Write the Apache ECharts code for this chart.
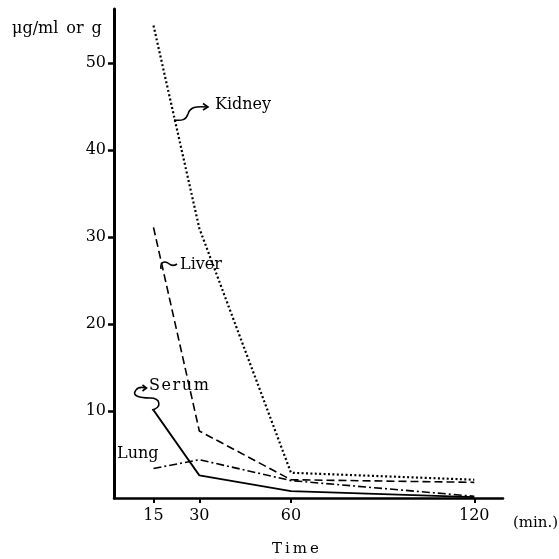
<!DOCTYPE html>
<html>
<head>
<meta charset="utf-8">
<script src="https://cdn.jsdelivr.net/npm/echarts@6/dist/echarts.min.js"></script>
<style>
  html, body { margin: 0; padding: 0; background: #fff; }
  #chart { width: 559px; height: 559px; }
</style>
</head>
<body>
<div id="chart"></div>
<script>
// sampling times (min.)
const times = [15, 30, 60, 120];
const xTicks = [15, 30, 60, 120];
const yTicks = [10, 20, 30, 40, 50];

// concentrations, ug/ml or g
const kidney = [54.3, 31.0, 2.9, 2.1];
const liver = [31.1, 7.7, 2.1, 1.8];
const serum = [10.1, 2.6, 0.8, 0.1];
const lung = [3.4, 4.4, 2.0, 0.2];

const FONT = 'DejaVu Serif';

function pairs(vals) {
  return times.map((t, i) => [t, vals[i]]);
}

function lineSeries(name, vals, type, width) {
  return {
    name: name,
    type: 'line',
    data: pairs(vals),
    symbol: 'none',
    silent: true,
    lineStyle: { color: '#000', width: width, type: type, cap: 'butt' }
  };
}

function label(text, x, y, size) {
  return {
    type: 'text', x: x, y: y,
    style: { text: text, fill: '#000', font: size + 'px "' + FONT + '"', verticalAlign: 'middle' }
  };
}

// hand drawn pointer: a bezier plus a small arrow head
function curve(x1, y1, cpx1, cpy1, cpx2, cpy2, x2, y2) {
  return {
    type: 'bezierCurve',
    shape: { x1: x1, y1: y1, cpx1: cpx1, cpy1: cpy1, cpx2: cpx2, cpy2: cpy2, x2: x2, y2: y2 },
    style: { fill: null, stroke: '#000', lineWidth: 1.6 }
  };
}

function head(pts) {
  return {
    type: 'polyline',
    shape: { points: pts },
    style: { fill: null, stroke: '#000', lineWidth: 1.6 }
  };
}

const chart = echarts.init(document.getElementById('chart'));

chart.setOption({
  animation: false,
  backgroundColor: '#fff',
  grid: { left: 114, right: 56, top: 9, bottom: 61 },
  xAxis: {
    type: 'value',
    min: 2.07,
    max: 129.4,
    splitLine: { show: false },
    axisLine: { lineStyle: { color: '#000', width: 2.5 } },
    axisTick: { show: true, customValues: xTicks, length: 5, lineStyle: { color: '#000', width: 2 } },
    axisLabel: { customValues: xTicks, color: '#000', fontFamily: FONT, fontSize: 16, margin: 10 }
  },
  yAxis: {
    type: 'value',
    min: 0,
    max: 56.2,
    splitLine: { show: false },
    axisLine: { show: true, lineStyle: { color: '#000', width: 3 } },
    axisTick: { show: true, customValues: yTicks, length: 6, lineStyle: { color: '#000', width: 2.5 } },
    axisLabel: { customValues: yTicks, color: '#000', fontFamily: FONT, fontSize: 16, margin: 8 }
  },
  series: [
    lineSeries('Kidney', kidney, [2, 2.4], 2.2),
    lineSeries('Liver', liver, [8, 4], 1.6),
    lineSeries('Lung', lung, [8, 3, 2, 3], 1.6),
    lineSeries('Serum', serum, 'solid', 1.8)
  ],
  graphic: [
    label('\u03bcg/ml\u2002or\u2002g', 12, 29, 16),
    label('(min.)', 513, 523, 15),
    label('T\u2009i\u2009m\u2009e', 272, 549, 15),
    label('Kidney', 215, 105, 16),
    label('Liver', 180, 265, 16),
    label('S\u200Ae\u200Ar\u200Au\u200Am', 149, 386, 16),
    label('Lung', 117, 454, 16),
    curve(174, 120, 182, 121, 186, 120, 188, 114),
    curve(188, 114, 190, 107, 196, 106, 207, 107),
    head([[203, 103.5], [208, 107], [203, 110]]),
    curve(161, 269, 160, 262, 164, 261, 168, 263),
    curve(168, 263, 171, 266, 174, 266, 177, 264),
    curve(152, 410, 162, 408, 161, 398, 150, 398),
    curve(150, 398, 140, 398, 131, 396, 136, 390),
    curve(136, 390, 138, 387, 142, 387, 146, 388),
    head([[142.5, 385], [146.5, 388], [142.5, 391]])
  ]
});
</script>
</body>
</html>
